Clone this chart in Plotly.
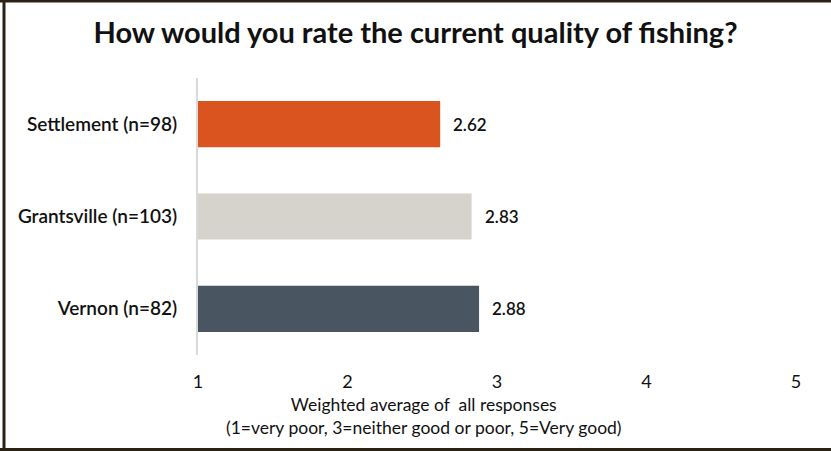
import plotly.graph_objects as go

categories = ["Settlement (n=98)", "Grantsville (n=103)", "Vernon (n=82)"]
values = [2.62, 2.83, 2.88]
colors = ["#D9541E", "#D6D2CC", "#4A5562"]
x_ticks = [1, 2, 3, 4, 5]
x_title = "Weighted average of  all responses<br>(1=very poor, 3=neither good or poor, 5=Very good)"

FONT = "Lato"
L, R, T, B = 198, 35, 78, 96
W, H = 831, 451
pw, ph = W - L - R, H - T - B

fig = go.Figure()
fig.add_trace(go.Bar(
    y=categories, x=[v - 1 for v in values], base=1,
    orientation="h", marker=dict(color=colors, line=dict(width=0)),
    width=0.5, hoverinfo="skip",
))

for c, v in zip(categories, values):
    fig.add_annotation(x=v, y=c, text=f"{v:.2f}", showarrow=False,
                       xanchor="left", xshift=11,
                       font=dict(family=FONT, size=17, color="#111", weight=600))

def px(xp):
    return (xp - L) / pw

def py(yp):
    return (H - B - yp) / ph

fig.add_annotation(xref="paper", yref="paper", x=px(424), y=py(416), text=x_title,
                   showarrow=False, xanchor="center", yanchor="middle", align="center",
                   font=dict(family=FONT, size=17.5, color="#111"))

border = "#2B2216"
fig.add_shape(type="line", xref="paper", yref="paper", x0=px(0), x1=px(W), y0=py(1), y1=py(1),
              line=dict(color=border, width=3))
fig.add_shape(type="line", xref="paper", yref="paper", x0=px(0), x1=px(W), y0=py(449.5), y1=py(449.5),
              line=dict(color=border, width=3))
fig.add_shape(type="line", xref="paper", yref="paper", x0=px(4), x1=px(4), y0=py(0), y1=py(H),
              line=dict(color=border, width=3))

fig.update_layout(
    width=W, height=H,
    margin=dict(l=L, r=R, t=T, b=B),
    paper_bgcolor="white", plot_bgcolor="white",
    showlegend=False,
    title=dict(text="<b>How would you rate the current quality of fishing?</b>",
               x=0.5, xref="container", xanchor="center", y=(H - 33) / H, yanchor="middle",
               font=dict(family=FONT, size=29, color="#111")),
    xaxis=dict(range=[1, 5], tickvals=x_ticks, showgrid=False, zeroline=False,
               showline=False, ticks="outside", ticklen=10, tickcolor="rgba(0,0,0,0)",
               tickfont=dict(family=FONT, size=18, color="#111")),
    yaxis=dict(range=[2.5, -0.5], showgrid=False, zeroline=False,
               showline=True, linecolor="#D9D9D9", linewidth=2,
               ticks="outside", ticklen=15, tickcolor="rgba(0,0,0,0)",
               tickfont=dict(family=FONT, size=19, color="#111", weight=600)),
)

fig.write_html("out.html", config={"displayModeBar": False},
               post_script="document.body.style.margin='0';")
